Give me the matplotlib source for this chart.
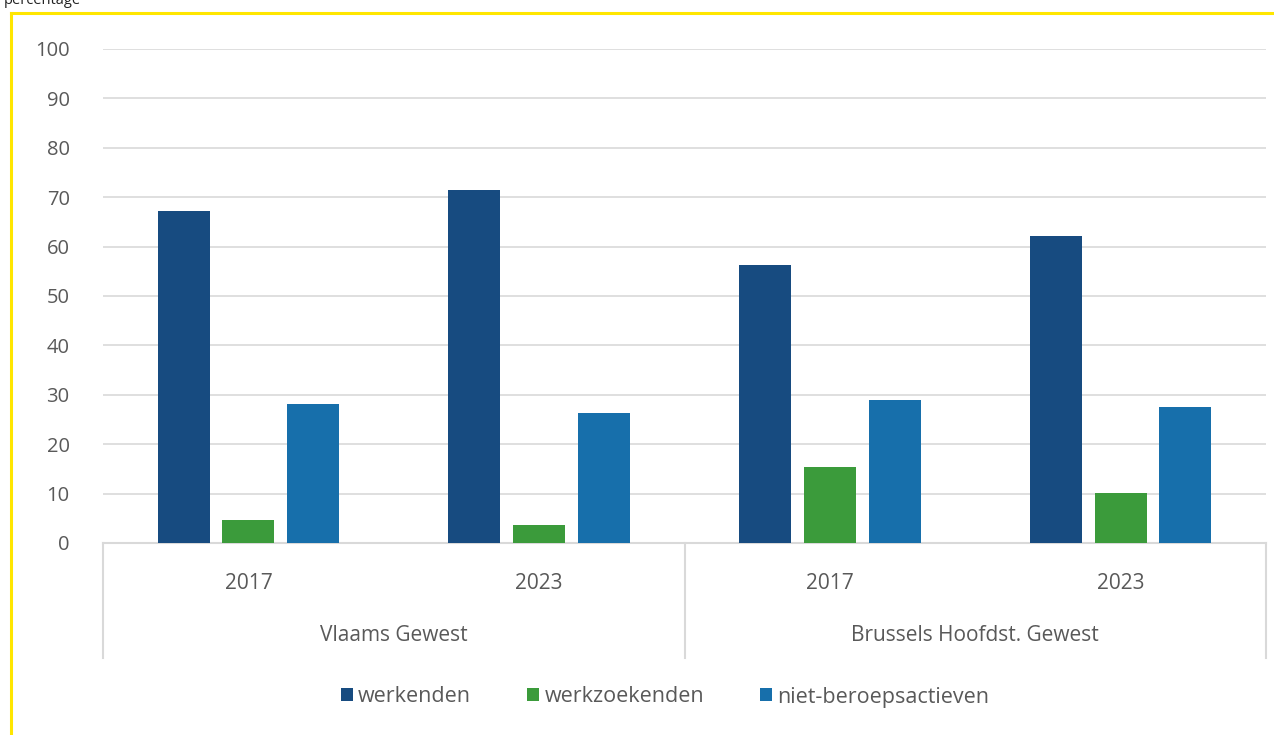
import numpy as np
import matplotlib.pyplot as plt
from matplotlib.lines import Line2D

plt.rcParams['font.family'] = ['Open Sans', 'DejaVu Sans']

# data: share of population (%) by status
years = ['2017', '2023', '2017', '2023']
regions = ['Vlaams Gewest', 'Brussels Hoofdst. Gewest']
series = ['werkenden', 'werkzoekenden', 'niet-beroepsactieven']
werkenden = [67.2, 71.4, 56.2, 62.1]
werkzoekenden = [4.7, 3.6, 15.3, 10.1]
niet_actief = [28.1, 26.3, 28.9, 27.5]

colors = ['#174b80', '#3b9b3b', '#176fab']
txt = '#595959'
grid = '#d9d9d9'

fig = plt.figure(figsize=(12.74, 7.35), dpi=100)
ax = fig.add_axes([103/1274, 192/735, 1163/1274, 494/735])

x = np.arange(len(years))
w = 0.179
off = 0.223
for i, (vals, c, lab) in enumerate(zip([werkenden, werkzoekenden, niet_actief], colors, series)):
    ax.bar(x + (i - 1)*off, vals, width=w, color=c, label=lab, zorder=3)

ax.set_xlim(-0.5, 3.5)
ax.set_ylim(0, 100)
ax.set_yticks(range(0, 101, 10))
ax.tick_params(axis='y', length=0, pad=24, labelsize=14.5, labelcolor=txt)
ax.set_xticks([])
ax.grid(axis='y', color=grid, linewidth=1.2, zorder=0)
for s in ax.spines.values():
    s.set_visible(False)

# two-level category axis below the plot
tr = ax.get_xaxis_transform()
ax.plot([-0.5, 3.5], [0, 0], color=grid, lw=1.5, transform=tr, clip_on=False)
for xv in [-0.5, 1.5, 3.5]:
    ax.plot([xv, xv], [0, -0.233], color=grid, lw=1.5, transform=tr, clip_on=False)
for xi, y in zip(x, years):
    ax.text(xi, -0.081, y, transform=tr, ha='center', va='center', fontsize=15, color=txt)
for xi, r in zip([0.5, 2.5], regions):
    ax.text(xi, -0.188, r, transform=tr, ha='center', va='center', fontsize=15, color=txt)

fig.legend(loc='center', bbox_to_anchor=(0.522, 1 - 697/735), ncol=3, frameon=False,
           fontsize=15.5, labelcolor=txt, handlelength=0.55, handleheight=0.55,
           handletextpad=0.25, columnspacing=2.6)

fig.text(0.003, 1 - 4/735, 'percentage', fontsize=10.5, va='baseline', color='#222222')

# yellow frame along top and left edge
fig.add_artist(Line2D([11/1274, 1], [1 - 13/735, 1 - 13/735], color='#ffe600', lw=2.2,
                      transform=fig.transFigure))
fig.add_artist(Line2D([11/1274, 11/1274], [0, 1 - 13/735], color='#ffe600', lw=2.2,
                      transform=fig.transFigure))

fig.savefig('out.png', dpi=100)
